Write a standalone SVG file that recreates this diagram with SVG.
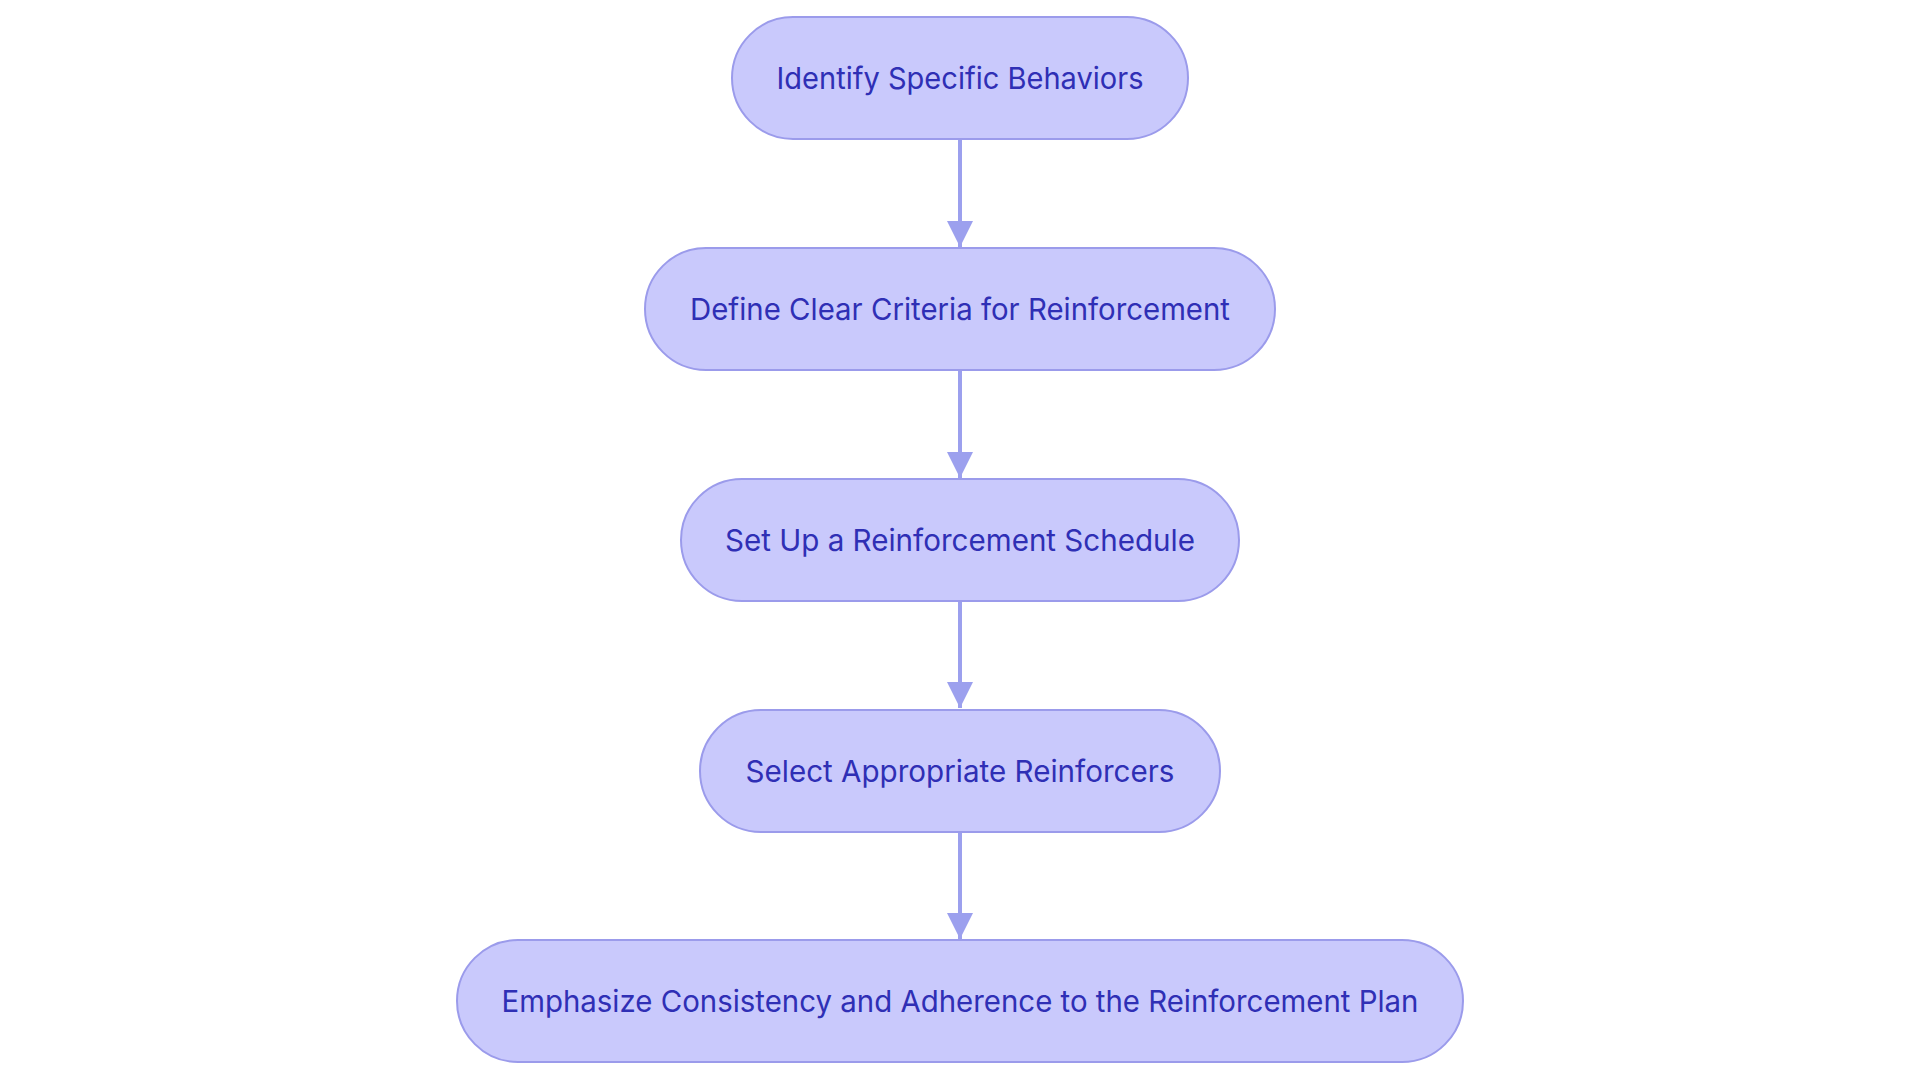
<svg xmlns="http://www.w3.org/2000/svg" width="1920" height="1080" viewBox="0 0 1920 1080">
<defs>
<style>
.node rect{fill:#c9c9fc;stroke:#9b9beb;stroke-width:2}
.node text{font-family:Inter,"Noto Sans",sans-serif;font-size:30px;font-weight:400;fill:#2f2fb5;text-anchor:middle}
.edge{stroke:#9ca0ee;stroke-width:4;fill:none}
</style>
<marker id="arrow" markerUnits="userSpaceOnUse" markerWidth="28" markerHeight="28" refX="26" refY="13" orient="auto">
<path d="M0,0 L26,13 L0,26 Z" fill="#9ca0ee"/>
</marker>
</defs>
<rect width="1920" height="1080" fill="#ffffff"/>
<g id="connectors">
<line class="edge" x1="960" y1="139" x2="960" y2="247" marker-end="url(#arrow)"/>
<line class="edge" x1="960" y1="370" x2="960" y2="478" marker-end="url(#arrow)"/>
<line class="edge" x1="960" y1="601" x2="960" y2="708" marker-end="url(#arrow)"/>
<line class="edge" x1="960" y1="832" x2="960" y2="939" marker-end="url(#arrow)"/>
</g>
<g id="node1" class="node">
<rect x="732" y="17" width="456" height="122" rx="61" ry="61"/>
<text x="960" y="89" textLength="367" lengthAdjust="spacingAndGlyphs">Identify Specific Behaviors</text>
</g>
<g id="node2" class="node">
<rect x="645" y="248" width="630" height="122" rx="61" ry="61"/>
<text x="960" y="320" textLength="540" lengthAdjust="spacingAndGlyphs">Define Clear Criteria for Reinforcement</text>
</g>
<g id="node3" class="node">
<rect x="681" y="479" width="558" height="122" rx="61" ry="61"/>
<text x="960" y="551" textLength="470" lengthAdjust="spacingAndGlyphs">Set Up a Reinforcement Schedule</text>
</g>
<g id="node4" class="node">
<rect x="700" y="710" width="520" height="122" rx="61" ry="61"/>
<text x="960" y="782" textLength="429" lengthAdjust="spacingAndGlyphs">Select Appropriate Reinforcers</text>
</g>
<g id="node5" class="node">
<rect x="457" y="940" width="1006" height="122" rx="61" ry="61"/>
<text x="960" y="1012" textLength="917" lengthAdjust="spacingAndGlyphs">Emphasize Consistency and Adherence to the Reinforcement Plan</text>
</g>
</svg>
